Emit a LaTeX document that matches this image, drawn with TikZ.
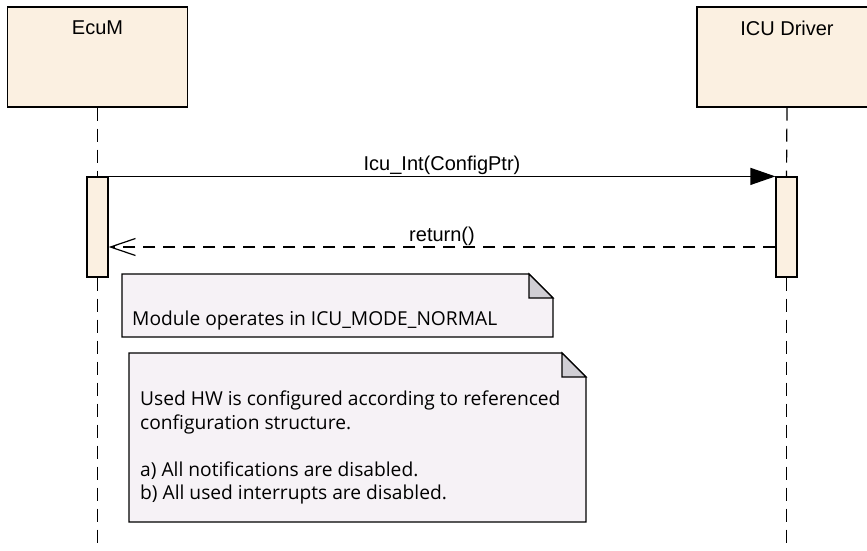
\documentclass[tikz,border=0pt]{standalone}
\usepackage{fontspec}
\setmainfont{Liberation Sans}
\newfontfamily\notefont{Open Sans}
\usetikzlibrary{arrows.meta,positioning,calc}
\definecolor{lifebg}{RGB}{251,240,225}
\definecolor{notebg}{RGB}{246,242,246}
\definecolor{foldgray}{RGB}{208,206,212}
\tikzset{
  hdr/.style={rectangle, draw, line width=1.2pt, fill=lifebg, minimum width=180pt, minimum height=100pt, inner sep=0pt},
  hdrtxt/.style={font=\fontsize{20}{24}\selectfont, anchor=north, inner sep=0pt},
  actbar/.style={rectangle, draw, line width=1.2pt, fill=lifebg, minimum width=21pt, minimum height=100pt, inner sep=0pt},
  life/.style={line width=1.2pt, dash pattern=on 13pt off 8pt},
  call/.style={line width=1.2pt, -{Triangle[length=25pt,width=17pt]}},
  ret/.style={line width=1.2pt, dash pattern=on 12pt off 8pt, -{Straight Barb[length=25pt,width=17pt]}},
  msgtxt/.style={font=\fontsize{20}{24}\selectfont, above=1pt, inner sep=0pt},
  notebox/.style={draw, line width=1.2pt, fill=notebg},
  notetxt/.style={font=\notefont\fontsize{19.2}{23.5}\selectfont, anchor=base west, align=left, inner sep=0pt},
}

\begin{document}
\begin{tikzpicture}[x=1pt,y=-1pt]
  \useasboundingbox (0,0) rectangle (867,550);

  % Lifeline heads
  \node[hdr] (ecum) at (97.5,57) {};
  \node[hdr] (icu) at (787,57) {};
  \node[hdrtxt] (ecumlbl) at ($(ecum.north)+(0,14)$) {EcuM};
  \node[hdrtxt] (iculbl) at ($(icu.north)+(0,14)$) {ICU Driver};

  % Activation bars
  \node[actbar] (ecumact) at (97.5,227) {};
  \node[actbar] (icuact) at (786.5,227) {};

  % Lifelines
  \coordinate (ecumend) at (97.5,550);
  \coordinate (icuend) at (786.5,550);
  \draw[life] (ecum.south) -- (ecumact.north);
  \draw[life] (ecumact.south) -- (ecumend);
  \draw[life] (icu.south) -- (icuact.north);
  \draw[life] (icuact.south) -- (icuend);

  % Messages
  \draw[call] (ecumact.north east) -- (icuact.north west)
    node[midway, msgtxt] (initlbl) {Icu\_Int(ConfigPtr)};
  \coordinate (retfrom) at ($(icuact.west)+(0,20)$);
  \coordinate (retto) at ($(ecumact.east)+(0,20)$);
  \draw[ret] (retfrom) -- (retto)
    node[midway, msgtxt] (retlbl) {return()};

  % Note: mode
  \draw[notebox] (122,274) -- (529,274) -- (553,298) -- (553,337) -- (122,337) -- cycle;
  \draw[notebox, fill=foldgray] (529,274) -- (529,298) -- (553,298) -- cycle;
  \node[notetxt] (modetxt) at (132,325) {Module operates in ICU\_MODE\_NORMAL};

  % Note: configuration (base = last line)
  \draw[notebox] (129,353) -- (562,353) -- (586,377) -- (586,522) -- (129,522) -- cycle;
  \draw[notebox, fill=foldgray] (562,353) -- (562,377) -- (586,377) -- cycle;
  \node[notetxt] (cfgtxt) at (140,499.5) {Used HW is configured according to referenced\\
    configuration structure.\\[23.5pt]
    a) All notifications are disabled.\\
    b) All used interrupts are disabled.};
\end{tikzpicture}
\end{document}
